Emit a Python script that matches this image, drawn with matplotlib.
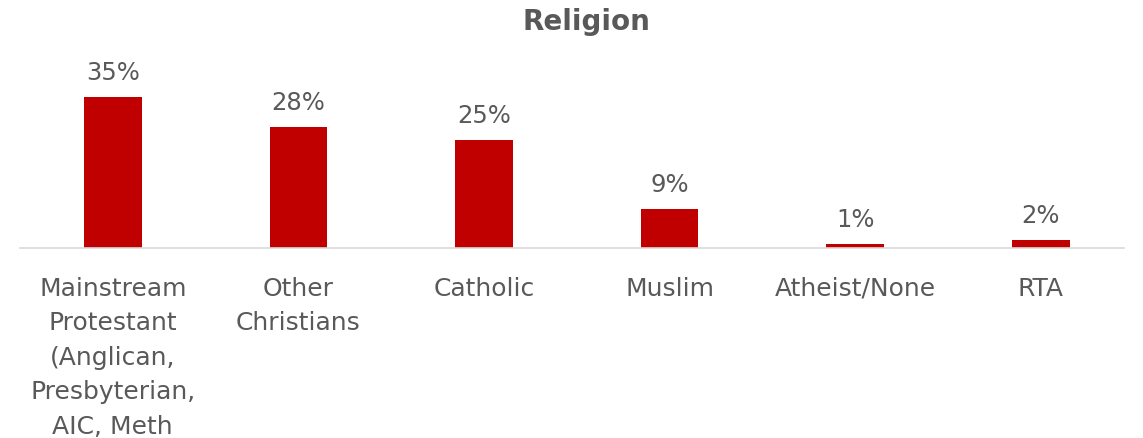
import matplotlib
matplotlib.use("Agg")
import matplotlib.pyplot as plt

categories = ["Mainstream\nProtestant\n(Anglican,\nPresbyterian,\nAIC, Meth",
              "Other\nChristians", "Catholic", "Muslim", "Atheist/None", "RTA"]
values = [35, 28, 25, 9, 1, 2]
value_labels = ["35%", "28%", "25%", "9%", "1%", "2%"]

plt.rcParams['font.family'] = ['DejaVu Sans']
fig = plt.figure(figsize=(11.43, 4.39), dpi=100)
ax = fig.add_axes([20/1143, 0.4325, 1113.6/1143, 0.393])
x = list(range(len(categories)))
bars = ax.bar(x, values, width=0.31, color="#C00000", zorder=2)
for xi, v, lab in zip(x, values, value_labels):
    ax.text(xi, v + 3.0, lab, ha="center", va="bottom", fontsize=17.5, color="#595959")
ax.set_xlim(-0.5, 5.5)
ax.set_ylim(0, 40)
ax.set_xticks(x)
ax.set_xticklabels(categories, fontsize=18, color="#595959", linespacing=1.55)
ax.tick_params(axis="x", length=0, pad=20)
ax.set_yticks([])
for s in ["top", "right", "left"]:
    ax.spines[s].set_visible(False)
ax.spines["bottom"].set_color("#D9D9D9")
ax.spines["bottom"].set_linewidth(1.2)
ax.spines["bottom"].set_bounds(-0.5, 5.45)
fig.text(586/1143, 1 - 22/439, "Religion", ha="center", va="center",
         fontsize=20, fontweight="bold", color="#595959")
fig.savefig("out.png", dpi=100)
